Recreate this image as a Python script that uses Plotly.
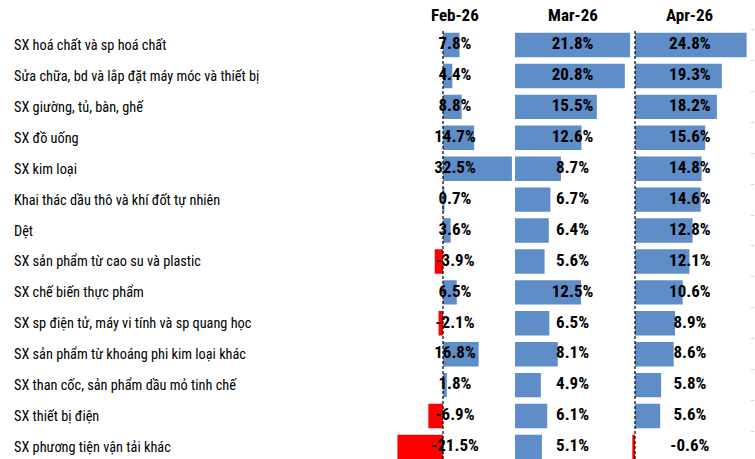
import plotly.graph_objects as go

categories = [
    "SX hoá chất và sp hoá chất",
    "Sửa chữa, bd và lắp đặt máy móc và thiết bị",
    "SX giường, tủ, bàn, ghế",
    "SX đồ uống",
    "SX kim loại",
    "Khai thác dầu thô và khí đốt tự nhiên",
    "Dệt",
    "SX sản phẩm từ cao su và plastic",
    "SX chế biến thực phẩm",
    "SX sp điện tử, máy vi tính và sp quang học",
    "SX sản phẩm từ khoáng phi kim loại khác",
    "SX than cốc, sản phẩm dầu mỏ tinh chế",
    "SX thiết bị điện",
    "SX phương tiện vận tải khác",
]
months = ["Feb-26", "Mar-26", "Apr-26"]
feb = [7.8, 4.4, 8.8, 14.7, 32.5, 0.7, 3.6, -3.9, 6.5, -2.1, 16.8, 1.8, -6.9, -21.5]
mar = [21.8, 20.8, 15.5, 12.6, 8.7, 6.7, 6.4, 5.6, 12.5, 6.5, 8.1, 4.9, 6.1, 5.1]
apr = [24.8, 19.3, 18.2, 15.6, 14.8, 14.6, 12.8, 12.1, 10.6, 8.9, 8.6, 5.8, 5.6, -0.6]
series = [feb, mar, apr]

W, H = 755, 459
BLUE = "#5F8DC8"
RED = "#FF0000"
NARROW = "Liberation Sans Narrow, Arial Narrow, Roboto Condensed, Liberation Sans, Arial"

# layout constants per column (screen pixels): zero pixel, px per unit, range, label x (data units)
cols = [
    dict(zero=443, scale=2.12, rng=(-22, 33), lab=5.66, dash=True),
    dict(zero=515, scale=5.28, rng=(0, 22.2), lab=10.9, dash=False),
    dict(zero=635, scale=4.5, rng=(-1, 25), lab=12.2, dash=True),
]

row0, step = 45.0, 30.92
top_px = row0 - step / 2
bottom_val = (H - row0) / step
ydom_top = (H - top_px) / H

fig = go.Figure()
shapes = []
annotations = []
for i, (c, vals, m) in enumerate(zip(cols, series, months)):
    ax = "x" if i == 0 else f"x{i+1}"
    axkey = "xaxis" if i == 0 else f"xaxis{i+1}"
    colors = [BLUE if v >= 0 else RED for v in vals]
    fig.add_trace(go.Bar(
        x=vals, y=categories, orientation="h", xaxis=ax, yaxis="y",
        marker=dict(color=colors, line=dict(width=0)), width=0.79,
        showlegend=False, hoverinfo="skip",
    ))
    fig.add_trace(go.Scatter(
        x=[c["lab"]] * len(vals), y=categories, mode="text", xaxis=ax, yaxis="y",
        text=[f"{v:.1f}%" for v in vals], textposition="middle center",
        textfont=dict(family=NARROW, size=17, color="black", weight="bold"),
        cliponaxis=False, showlegend=False, hoverinfo="skip",
    ))
    px0 = c["zero"] + c["rng"][0] * c["scale"]
    px1 = c["zero"] + c["rng"][1] * c["scale"]
    fig.update_layout(**{axkey: dict(
        domain=[px0 / W, px1 / W], range=list(c["rng"]), anchor="y",
        showgrid=False, zeroline=False, showticklabels=False, showline=False,
        fixedrange=True,
    )})
    if c["dash"]:
        shapes.append(dict(type="line", xref=ax, yref="paper", x0=0, x1=0,
                           y0=0, y1=ydom_top,
                           line=dict(color="black", width=1.2, dash="3px,2px")))
    annotations.append(dict(text=f"<b>{m}</b>", xref=ax, yref="paper", x=c["lab"],
                            y=(H - 15) / H, xanchor="center", yanchor="middle",
                            showarrow=False,
                            font=dict(family=NARROW, size=17, color="black")))

for cat in categories:
    annotations.append(dict(text=cat, xref="paper", yref="y", x=12 / W, y=cat,
                            xanchor="left", yanchor="middle", showarrow=False,
                            font=dict(family=NARROW, size=14.3, color="black")))

fig.update_layout(
    width=W, height=H, margin=dict(l=0, r=0, t=0, b=0),
    paper_bgcolor="white", plot_bgcolor="white",
    barmode="overlay",
    yaxis=dict(domain=[0, ydom_top], range=[bottom_val, -0.5], type="category",
               categoryorder="array", categoryarray=categories,
               anchor="free", position=750 / W, side="right",
               showticklabels=False, ticks="outside", tickson="boundaries",
               ticklen=3, tickcolor="#d0d0d0", showgrid=False, zeroline=False,
               showline=False, fixedrange=True),
    shapes=shapes, annotations=annotations,
)

fig.write_html(
    "out.html",
    config={"displayModeBar": False},
    post_script="document.body.style.margin='0';document.body.style.overflow='hidden';",
)
